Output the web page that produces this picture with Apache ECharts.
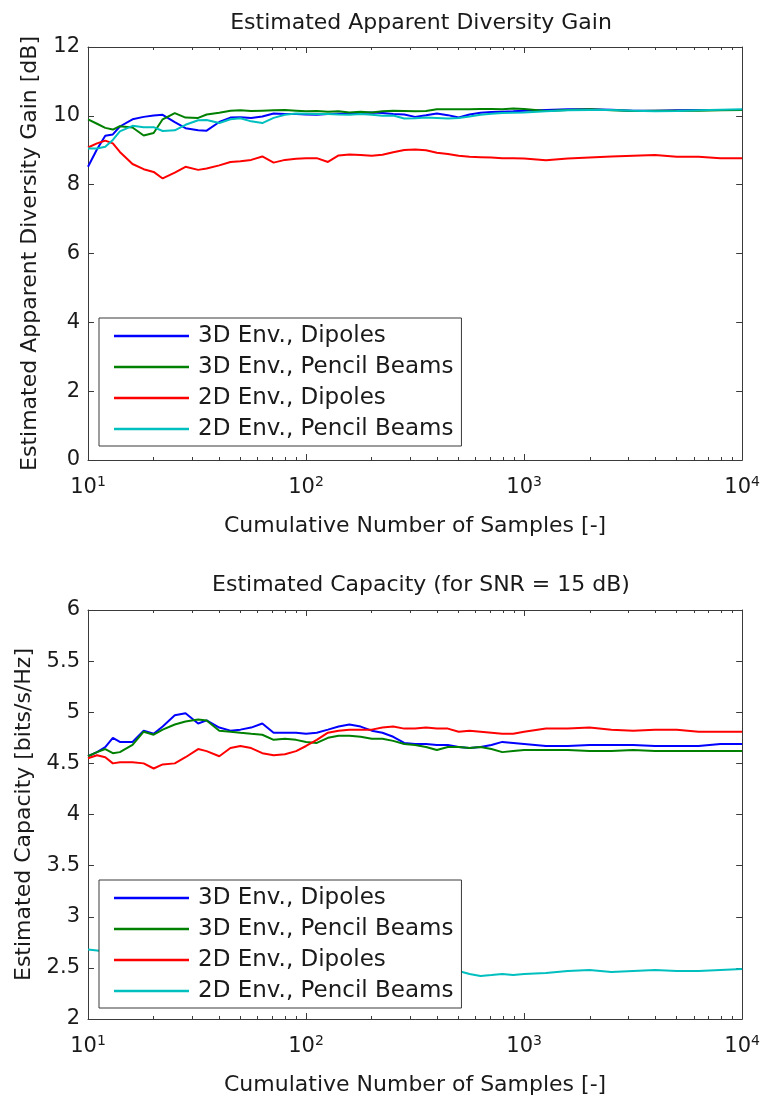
<!DOCTYPE html>
<html>
<head>
<meta charset="utf-8">
<script src="https://cdn.jsdelivr.net/npm/echarts@6/dist/echarts.min.js"></script>
<style>html,body{margin:0;padding:0;background:#fff}#c{width:763px;height:1097px}</style>
</head>
<body>
<div id="c"></div>
<script>
const seriesNames = ['3D Env., Dipoles', '3D Env., Pencil Beams', '2D Env., Dipoles', '2D Env., Pencil Beams'];
const samples = [10, 11, 12, 13, 14, 16, 18, 20, 22, 25, 28, 32, 35, 40, 45, 50, 56, 63, 71, 80, 90, 100, 112, 126, 141, 158, 178, 200, 224, 251, 282, 316, 355, 398, 447, 501, 562, 631, 708, 794, 891, 1000, 1259, 1585, 1995, 2512, 3162, 3981, 5012, 6310, 7943, 10000];

const gain3DDipoles = [8.52, 9.03, 9.42, 9.46, 9.69, 9.9, 9.97, 10.01, 10.03, 9.82, 9.64, 9.58, 9.57, 9.82, 9.95, 9.96, 9.94, 9.98, 10.07, 10.05, 10.05, 10.04, 10.03, 10.05, 10.06, 10.07, 10.08, 10.1, 10.08, 10.05, 10.04, 9.97, 10.02, 10.07, 10.02, 9.95, 10.04, 10.09, 10.11, 10.12, 10.13, 10.15, 10.17, 10.19, 10.19, 10.18, 10.15, 10.15, 10.16, 10.17, 10.17, 10.17];
const gain3DPencil = [9.9, 9.77, 9.65, 9.6, 9.7, 9.66, 9.43, 9.5, 9.9, 10.08, 9.95, 9.94, 10.04, 10.09, 10.15, 10.16, 10.14, 10.15, 10.16, 10.17, 10.15, 10.13, 10.14, 10.12, 10.13, 10.1, 10.12, 10.1, 10.13, 10.15, 10.14, 10.13, 10.14, 10.19, 10.19, 10.19, 10.19, 10.2, 10.2, 10.19, 10.21, 10.2, 10.14, 10.17, 10.19, 10.16, 10.14, 10.15, 10.15, 10.15, 10.16, 10.17];
const gain2DDipoles = [9.08, 9.2, 9.28, 9.2, 8.95, 8.6, 8.45, 8.37, 8.18, 8.35, 8.52, 8.43, 8.47, 8.56, 8.66, 8.68, 8.72, 8.82, 8.64, 8.72, 8.75, 8.77, 8.77, 8.66, 8.85, 8.88, 8.86, 8.84, 8.87, 8.94, 9.01, 9.02, 9.0, 8.93, 8.89, 8.84, 8.81, 8.8, 8.79, 8.77, 8.77, 8.76, 8.71, 8.76, 8.79, 8.82, 8.84, 8.86, 8.81, 8.81, 8.77, 8.77];
const gain2DPencil = [9.05, 9.05, 9.1, 9.3, 9.55, 9.71, 9.67, 9.67, 9.56, 9.58, 9.74, 9.87, 9.88, 9.79, 9.9, 9.93, 9.84, 9.79, 9.94, 10.03, 10.07, 10.06, 10.05, 10.05, 10.04, 10.03, 10.05, 10.03, 10.0, 10.01, 9.92, 9.93, 9.95, 9.94, 9.92, 9.94, 9.98, 10.03, 10.06, 10.08, 10.09, 10.1, 10.13, 10.16, 10.17, 10.17, 10.15, 10.13, 10.14, 10.16, 10.18, 10.19];

const cap3DDipoles = [4.57, 4.61, 4.66, 4.75, 4.71, 4.71, 4.82, 4.79, 4.86, 4.97, 4.99, 4.89, 4.92, 4.85, 4.82, 4.83, 4.85, 4.89, 4.8, 4.8, 4.8, 4.79, 4.8, 4.83, 4.86, 4.88, 4.86, 4.82, 4.8, 4.76, 4.7, 4.69, 4.69, 4.68, 4.68, 4.66, 4.65, 4.66, 4.68, 4.71, 4.7, 4.69, 4.67, 4.67, 4.68, 4.68, 4.68, 4.67, 4.67, 4.67, 4.69, 4.69];
const cap3DPencil = [4.57, 4.61, 4.64, 4.6, 4.61, 4.68, 4.81, 4.78, 4.83, 4.88, 4.91, 4.93, 4.92, 4.82, 4.81, 4.8, 4.79, 4.78, 4.73, 4.74, 4.73, 4.71, 4.7, 4.75, 4.77, 4.77, 4.76, 4.74, 4.74, 4.72, 4.69, 4.68, 4.66, 4.63, 4.66, 4.66, 4.65, 4.66, 4.64, 4.61, 4.62, 4.63, 4.63, 4.63, 4.62, 4.62, 4.63, 4.62, 4.62, 4.62, 4.62, 4.62];
const cap2DDipoles = [4.55, 4.58, 4.56, 4.5, 4.51, 4.51, 4.5, 4.45, 4.49, 4.5, 4.56, 4.64, 4.62, 4.57, 4.65, 4.67, 4.65, 4.6, 4.58, 4.59, 4.62, 4.67, 4.73, 4.8, 4.82, 4.83, 4.83, 4.83, 4.85, 4.86, 4.84, 4.84, 4.85, 4.84, 4.84, 4.81, 4.82, 4.81, 4.8, 4.79, 4.79, 4.81, 4.84, 4.84, 4.85, 4.83, 4.82, 4.83, 4.83, 4.81, 4.81, 4.81];
const cap2DPencil = [2.68, 2.67, 2.66, 2.65, 2.64, 2.63, 2.62, 2.61, 2.61, 2.6, 2.59, 2.58, 2.58, 2.57, 2.56, 2.56, 2.55, 2.55, 2.54, 2.54, 2.53, 2.53, 2.52, 2.52, 2.51, 2.51, 2.5, 2.5, 2.5, 2.49, 2.49, 2.49, 2.48, 2.48, 2.48, 2.47, 2.44, 2.42, 2.43, 2.44, 2.43, 2.44, 2.45, 2.47, 2.48, 2.46, 2.47, 2.48, 2.47, 2.47, 2.48, 2.49];

const colors = ['#0000ff', '#008000', '#ff0000', '#00bfbf'];
const FONT = 'DejaVu Sans, sans-serif';
const TXT = '#1a1a1a';
const AXC = '#3a3a3a';

const chart = echarts.init(document.getElementById('c'), null, {renderer: 'canvas'});

function xAxis(gi, pos, withLabels, name) {
  return {
    type: 'log', logBase: 10, gridIndex: gi, position: pos, min: 10, max: 10000,
    name: withLabels ? name : '', nameLocation: 'middle', nameGap: 55,
    nameTextStyle: {fontFamily: FONT, fontSize: 22, color: TXT},
    axisLine: {show: true, onZero: false, lineStyle: {color: AXC, width: 1}},
    axisTick: {show: true, inside: true, length: 6, lineStyle: {color: AXC}},
    minorTick: {show: true, splitNumber: 9, length: 3, lineStyle: {color: AXC}},
    splitLine: {show: false}, minorSplitLine: {show: false},
    axisLabel: withLabels ? {
      show: true, margin: 15, fontFamily: FONT, color: TXT,
      formatter: v => '{b|10}{s|' + Math.round(Math.log10(v)) + '}',
      rich: {b: {fontFamily: FONT, fontSize: 21, color: TXT, lineHeight: 26}, s: {fontFamily: FONT, fontSize: 14, color: TXT, lineHeight: 14, verticalAlign: 'top'}}
    } : {show: false}
  };
}
function yAxis(gi, pos, withLabels, min, max, interval, name) {
  return {
    type: 'value', gridIndex: gi, position: pos, min, max, interval,
    name: withLabels ? name : '', nameLocation: 'middle', nameGap: 47,
    nameTextStyle: {fontFamily: FONT, fontSize: 22, color: TXT},
    axisLine: {show: true, onZero: false, lineStyle: {color: AXC, width: 1}},
    axisTick: {show: true, inside: true, length: 6, lineStyle: {color: AXC}},
    splitLine: {show: false},
    axisLabel: withLabels ? {show: true, margin: 8, fontFamily: FONT, fontSize: 21, color: TXT} : {show: false}
  };
}
function legend(top) {
  return {
    data: seriesNames, orient: 'vertical', left: 99, top: top,
    padding: [6, 8, 5, 15], itemGap: 7, itemWidth: 75, itemHeight: 2.5, icon: 'rect',
    backgroundColor: '#fff', borderColor: AXC, borderWidth: 1, borderRadius: 0,
    selectedMode: false,
    textStyle: {fontFamily: FONT, fontSize: 23, color: TXT, lineHeight: 24, padding: [0, 0, 0, 4]}
  };
}

const gainData = [gain3DDipoles, gain3DPencil, gain2DDipoles, gain2DPencil];
const capData = [cap3DDipoles, cap3DPencil, cap2DDipoles, cap2DPencil];
const series = [];
gainData.forEach((arr, i) => series.push({
  name: seriesNames[i], type: 'line', xAxisIndex: 0, yAxisIndex: 0, showSymbol: false, symbol: 'none',
  data: samples.map((n, k) => [n, arr[k]]), lineStyle: {color: colors[i], width: 2}, itemStyle: {color: colors[i]}, animation: false
}));
capData.forEach((arr, i) => series.push({
  name: seriesNames[i], type: 'line', xAxisIndex: 2, yAxisIndex: 2, showSymbol: false, symbol: 'none',
  data: samples.map((n, k) => [n, arr[k]]), lineStyle: {color: colors[i], width: 2}, itemStyle: {color: colors[i]}, animation: false
}));

chart.setOption({
  animation: false,
  backgroundColor: '#fff',
  color: colors,
  title: [
    {text: 'Estimated Apparent Diversity Gain', left: 416, top: 7, textAlign: 'center', textStyle: {fontFamily: FONT, fontSize: 22, fontWeight: 'normal', color: TXT}},
    {text: 'Estimated Capacity (for SNR = 15 dB)', left: 416, top: 569, textAlign: 'center', textStyle: {fontFamily: FONT, fontSize: 22, fontWeight: 'normal', color: TXT}}
  ],
  grid: [
    {left: 88, right: 18, top: 47, height: 413},
    {left: 88, right: 18, top: 610, height: 410}
  ],
  xAxis: [
    xAxis(0, 'bottom', true, 'Cumulative Number of Samples [-]'),
    xAxis(0, 'top', false),
    xAxis(1, 'bottom', true, 'Cumulative Number of Samples [-]'),
    xAxis(1, 'top', false)
  ],
  yAxis: [
    yAxis(0, 'left', true, 0, 12, 2, 'Estimated Apparent Diversity Gain [dB]'),
    yAxis(0, 'right', false, 0, 12, 2),
    yAxis(1, 'left', true, 2, 6, 0.5, 'Estimated Capacity [bits/s/Hz]'),
    yAxis(1, 'right', false, 2, 6, 0.5)
  ],
  legend: [legend(318), legend(880)],
  series: series
});
</script>
</body>
</html>
